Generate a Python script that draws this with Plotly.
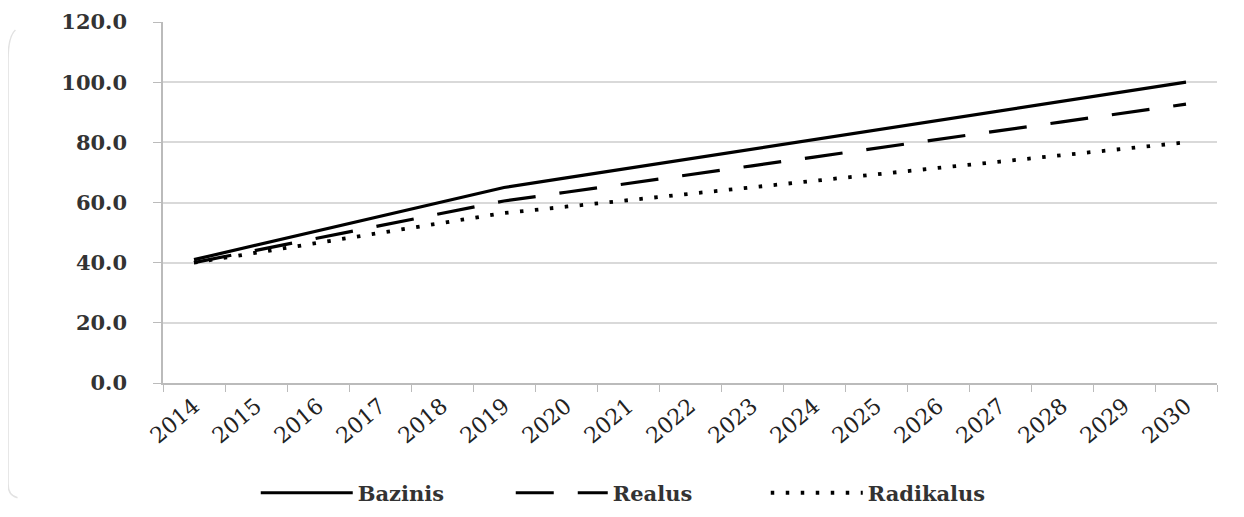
import plotly.graph_objects as go

years = [str(y) for y in range(2014, 2031)]
bazinis = [41.0, 45.8, 50.6, 55.4, 60.2, 65.0, 68.2, 71.4, 74.5, 77.7, 80.9, 84.1, 87.3, 90.5, 93.6, 96.8, 100.0]
realus = [40.0, 44.1, 48.2, 52.3, 56.4, 60.5, 63.4, 66.4, 69.3, 72.2, 75.1, 78.1, 81.0, 83.9, 86.8, 89.8, 92.7]
radikalus = [40.0, 43.3, 46.6, 49.9, 53.2, 56.5, 58.6, 60.8, 62.9, 65.1, 67.2, 69.3, 71.5, 73.6, 75.8, 77.9, 80.0]
y_ticks = [0, 20, 40, 60, 80, 100, 120]
y_labels = ["0.0", "20.0", "40.0", "60.0", "80.0", "100.0", "120.0"]

fig = go.Figure()
fig.add_trace(go.Scatter(x=years, y=bazinis, name="Bazinis", mode="lines",
                         line=dict(color="black", width=3.2)))
fig.add_trace(go.Scatter(x=years, y=realus, name="Realus", mode="lines",
                         line=dict(color="black", width=3.2, dash="38px,24px")))
fig.add_trace(go.Scatter(x=years, y=radikalus, name="Radikalus", mode="lines",
                         line=dict(color="black", width=3.8, dash="3.5px,11.5px")))

# page body has an 8px margin, so the figure is drawn 8px smaller and offset
fig.update_layout(
    width=1236, height=509,
    margin=dict(l=155, r=27, t=14, b=134, autoexpand=False),
    paper_bgcolor="white", plot_bgcolor="white",
    showlegend=True,
    legend=dict(orientation="h", x=0.088, xanchor="left", y=-0.305, yanchor="middle",
                font=dict(family="DejaVu Serif", size=21, color="#333", weight="bold"),
                itemwidth=92, entrywidth=148, entrywidthmode="pixels",
                traceorder="normal"),
    xaxis=dict(type="category", range=[-0.5, 16.5], tickson="boundaries",
               ticks="outside", ticklen=7, tickcolor="#bbbbbb",
               showline=True, linecolor="#bbbbbb", linewidth=1.5,
               showgrid=False, tickangle=-40, automargin=False,
               tickfont=dict(family="DejaVu Serif", size=22, color="#222")),
    yaxis=dict(range=[0, 120], tickvals=y_ticks, ticktext=y_labels,
               ticks="outside", ticklen=8, tickcolor="#bbbbbb",
               showline=True, linecolor="#bbbbbb", linewidth=1.5,
               showgrid=True, gridcolor="#d9d9d9", gridwidth=1.5,
               zeroline=False, automargin=False, ticklabelstandoff=22,
               tickfont=dict(family="DejaVu Serif", size=21, color="#333", weight="bold")),
)

# faint chart-area border on the left/top
fig.add_shape(type="path", xref="paper", yref="paper",
              path="M -0.138,-0.318 Q -0.147,-0.312 -0.147,-0.28 L -0.147,0.895 Q -0.147,0.96 -0.140,0.978",
              line=dict(color="#e2e2e2", width=1.5), layer="below")
fig.add_shape(type="line", xref="paper", yref="paper", x0=-0.04, x1=1.02, y0=1.056, y1=1.056,
              line=dict(color="#eeeeee", width=1.5), layer="below")

fig.write_html("out.html")
